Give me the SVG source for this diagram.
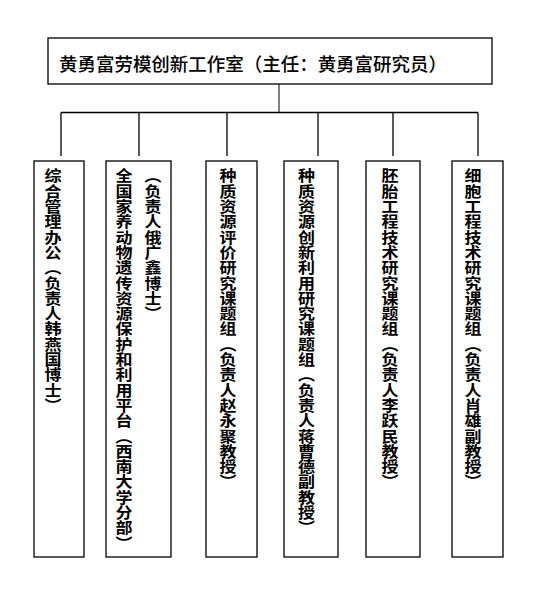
<svg xmlns="http://www.w3.org/2000/svg" width="550" height="589" viewBox="0 0 550 589">
<style>
  .box { fill: #fff; stroke: #000; stroke-width: 1.3; }
  .conn { stroke: #000; stroke-width: 1.3; fill: none; }
  .stem { stroke: #808080; stroke-width: 2; fill: none; }
  .title { font-family: "Noto Sans CJK SC", "Noto Sans", sans-serif; font-size: 18.5px; font-weight: 500; fill: #000; }
  .vt { font-family: "Noto Sans CJK SC", "Noto Sans", sans-serif; font-size: 17px; font-weight: bold; fill: #000; writing-mode: vertical-rl; }
</style>
<rect width="550" height="589" fill="#fff"/>
<g id="connectors">
  <line class="stem" x1="279" y1="84" x2="279" y2="112.5"/>
  <line class="conn" x1="61" y1="112.5" x2="478" y2="112.5"/>
  <line class="conn" x1="61" y1="112.5" x2="61" y2="156"/>
  <line class="conn" x1="139" y1="112.5" x2="139" y2="156"/>
  <line class="conn" x1="227" y1="112.5" x2="227" y2="156"/>
  <line class="conn" x1="318" y1="112.5" x2="318" y2="156"/>
  <line class="conn" x1="393" y1="112.5" x2="393" y2="156"/>
  <line class="conn" x1="478" y1="112.5" x2="478" y2="156"/>
</g>
<g id="root">
  <rect class="box" x="48" y="38" width="444" height="46"/>
  <text class="title" x="59" y="71" textLength="388">黄勇富劳模创新工作室（主任：黄勇富研究员）</text>
</g>
<g id="office">
  <rect class="box" x="34" y="161" width="50" height="396"/>
  <g transform="translate(53,168) scale(1,0.9)"><text class="vt" x="0" y="0">综合管理办公（负责人韩燕国博士）</text></g>
</g>
<g id="platform">
  <rect class="box" x="106" y="161" width="65" height="396"/>
  <g transform="translate(124,168) scale(1,0.9)"><text class="vt" x="0" y="0">全国家养动物遗传资源保护和利用平台（西南大学分部）</text></g>
  <g transform="translate(153,168) scale(1,0.9)"><text class="vt" x="0" y="0">（负责人俄广鑫博士）</text></g>
</g>
<g id="germplasm-eval">
  <rect class="box" x="206" y="161" width="51" height="396"/>
  <g transform="translate(228,168) scale(1,0.9)"><text class="vt" x="0" y="0">种质资源评价研究课题组（负责人赵永聚教授）</text></g>
</g>
<g id="germplasm-innov">
  <rect class="box" x="284" y="161" width="54" height="396"/>
  <g transform="translate(306.5,168) scale(1,0.9)"><text class="vt" x="0" y="0">种质资源创新利用研究课题组（负责人蒋曹德副教授）</text></g>
</g>
<g id="embryo">
  <rect class="box" x="366" y="161" width="54" height="396"/>
  <g transform="translate(390,168) scale(1,0.9)"><text class="vt" x="0" y="0">胚胎工程技术研究课题组（负责人李跃民教授）</text></g>
</g>
<g id="cell">
  <rect class="box" x="452" y="161" width="51" height="396"/>
  <g transform="translate(473,168) scale(1,0.9)"><text class="vt" x="0" y="0">细胞工程技术研究课题组（负责人肖雄副教授）</text></g>
</g>
</svg>
